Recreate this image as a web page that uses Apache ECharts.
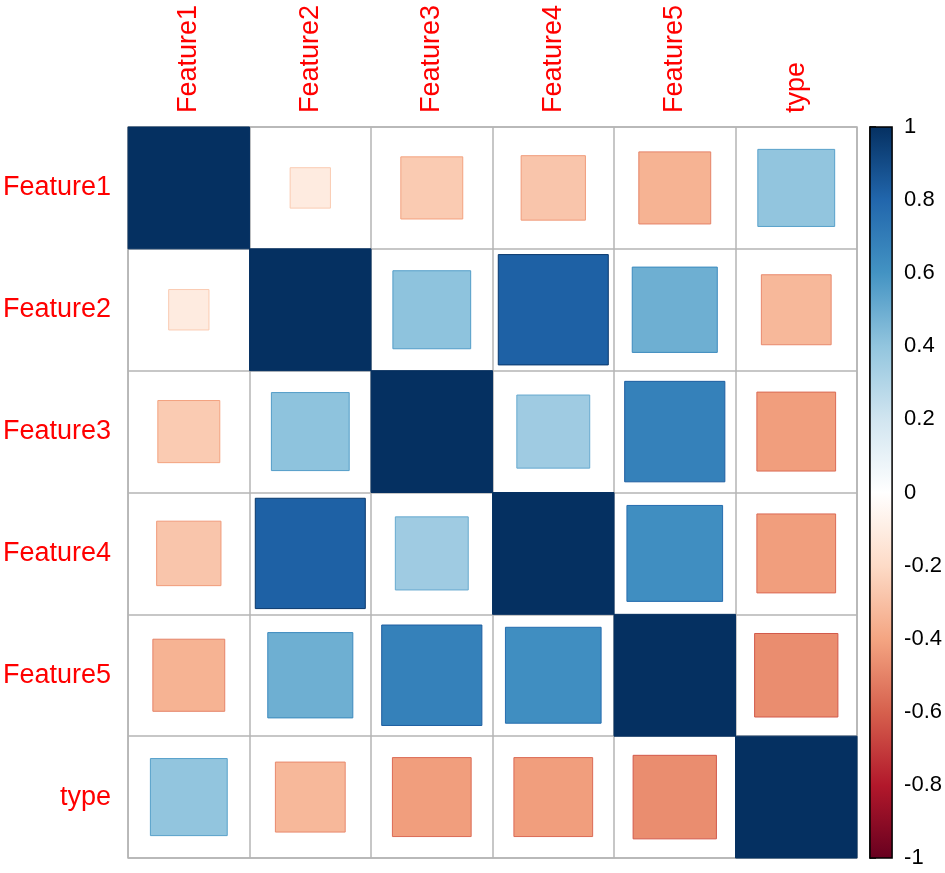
<!DOCTYPE html>
<html><head><meta charset="utf-8">
<script src="https://cdn.jsdelivr.net/npm/echarts@6/dist/echarts.min.js"></script>
<style>html,body{margin:0;padding:0;background:#fff}#c{width:945px;height:873px}</style>
</head><body><div id="c"></div>
<script>
const labels = ['Feature1', 'Feature2', 'Feature3', 'Feature4', 'Feature5', 'type'];
const rowFeature1 = [1, -0.11, -0.26, -0.28, -0.35, 0.40];
const rowFeature2 = [-0.11, 1, 0.41, 0.82, 0.49, -0.33];
const rowFeature3 = [-0.26, 0.41, 1, 0.36, 0.68, -0.42];
const rowFeature4 = [-0.28, 0.82, 0.36, 1, 0.62, -0.42];
const rowFeature5 = [-0.35, 0.49, 0.68, 0.62, 1, -0.47];
const rowType = [0.40, -0.33, -0.42, -0.42, -0.47, 1];
const colorbarRange = [-1, 1];
const palette = ['#67001F', '#B2182B', '#D6604D', '#F4A582', '#FDDBC7', '#FFFFFF',
                 '#D1E5F0', '#92C5DE', '#4393C3', '#2166AC', '#053061'];

const rows = [rowFeature1, rowFeature2, rowFeature3, rowFeature4, rowFeature5, rowType];
const cells = [];
rows.forEach((row, ri) => row.forEach((v, ci) => cells.push([ci, ri, v])));

const colorOf = v => echarts.color.lerp((v + 1) / 2, palette);
const gridColor = '#b4b4b4';
const font = 'Liberation Sans, Arial, sans-serif';

function renderCell(params, api) {
  const x = api.value(0), y = api.value(1), r = api.value(2);
  const c = api.coord([x, y]);
  const s = api.size([1, 1]);
  const k = Math.sqrt(Math.abs(r));
  const w = s[0] * k, h = s[1] * k;
  const fill = colorOf(r);
  const stroke = Math.abs(r) >= 1 ? fill : colorOf(Math.sign(r) * Math.min(1, Math.abs(r) + 0.15));
  return {
    type: 'rect',
    shape: { x: c[0] - w / 2, y: c[1] - h / 2, width: w, height: h },
    style: { fill: fill, stroke: stroke, lineWidth: 1 }
  };
}

function renderBar(params, api) {
  const top = api.coord([0, api.value(1)]);
  const bot = api.coord([1, api.value(0)]);
  const stops = palette.slice().reverse().map((c, i) => ({ offset: i / (palette.length - 1), color: c }));
  return {
    type: 'rect',
    shape: { x: top[0], y: top[1], width: bot[0] - top[0], height: bot[1] - top[1] },
    style: { fill: new echarts.graphic.LinearGradient(0, 0, 0, 1, stops), stroke: '#000', lineWidth: 1.5 }
  };
}

const chart = echarts.init(document.getElementById('c'));
chart.setOption({
  animation: false,
  backgroundColor: '#fff',
  grid: [
    { left: 127, top: 127, width: 730, height: 731, show: true, borderColor: gridColor, borderWidth: 1.5, backgroundColor: 'transparent' },
    { left: 870, top: 127, width: 23, height: 731 }
  ],
  xAxis: [
    {
      gridIndex: 0, type: 'category', data: labels, position: 'top',
      axisLine: { show: false }, axisTick: { show: false },
      axisLabel: { rotate: -90, color: '#ff0000', fontSize: 27, fontFamily: font, margin: 14, interval: 0 },
      splitLine: { show: true, interval: 0, lineStyle: { color: gridColor, width: 1.5 } }
    },
    { gridIndex: 1, type: 'value', min: 0, max: 1, show: false }
  ],
  yAxis: [
    {
      gridIndex: 0, type: 'category', data: labels, inverse: true,
      axisLine: { show: false }, axisTick: { show: false },
      axisLabel: { color: '#ff0000', fontSize: 27, fontFamily: font, margin: 17, interval: 0 },
      splitLine: { show: true, interval: 0, lineStyle: { color: gridColor, width: 1.5 } }
    },
    {
      gridIndex: 1, type: 'value', min: colorbarRange[0], max: colorbarRange[1], interval: 0.2, position: 'right',
      axisLine: { show: true, lineStyle: { color: '#000', width: 1.5 } },
      axisTick: { show: true, length: 6, lineStyle: { color: '#000', width: 1.5 } },
      axisLabel: { color: '#000', fontSize: 22, fontFamily: font, margin: 12,
                   formatter: v => String(parseFloat(Number(v).toFixed(1))) },
      splitLine: { show: false }
    }
  ],
  series: [
    { type: 'custom', xAxisIndex: 0, yAxisIndex: 0, renderItem: renderCell, data: cells, z: 3 },
    { type: 'custom', xAxisIndex: 1, yAxisIndex: 1, renderItem: renderBar, data: [colorbarRange], z: 3 }
  ]
});
</script></body></html>
